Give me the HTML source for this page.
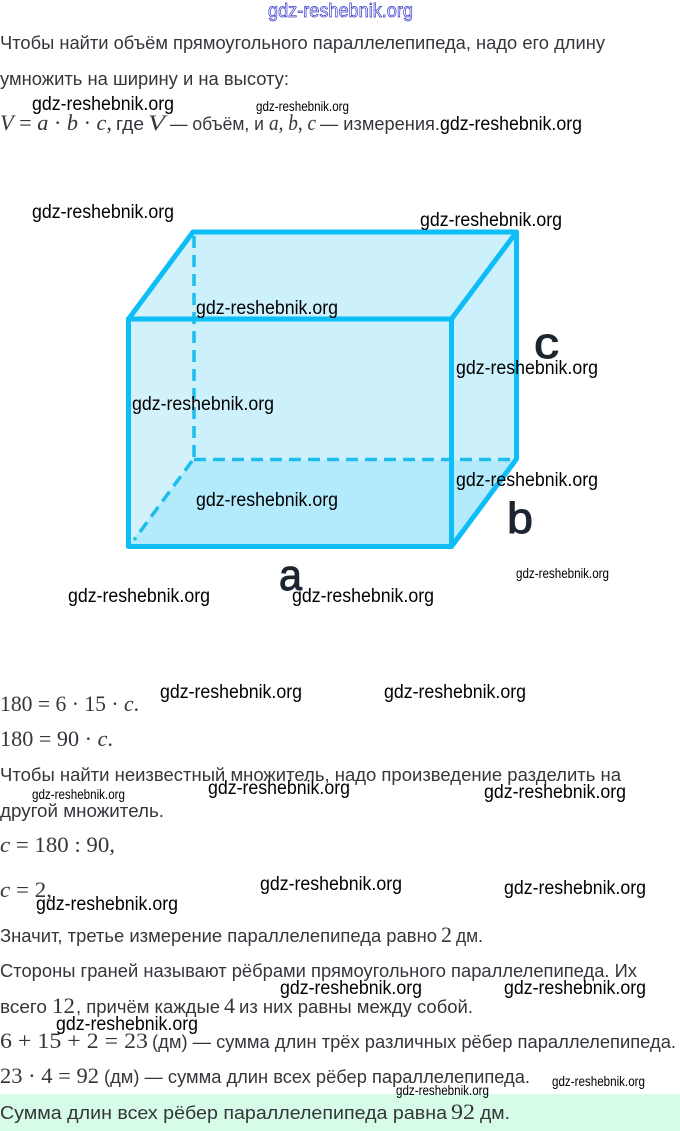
<!DOCTYPE html>
<html lang="ru"><head><meta charset="utf-8"><title>Параллелепипед</title>
<style>
html,body{margin:0;padding:0;background:#fff;width:680px;height:1131px;overflow:hidden}
svg{display:block}
.t{font-family:"Liberation Sans",sans-serif;font-size:18.5px;fill:#33363b}
.m{font-family:"Liberation Serif",serif;font-size:22px;fill:#33363b}
.i{font-style:italic}
.w{font-family:"Liberation Sans",sans-serif;font-size:19px;fill:#000}
.s{font-family:"Liberation Sans",sans-serif;font-size:13.5px;fill:#000}
.l{font-family:"Liberation Sans",sans-serif;font-size:44px;fill:#1c2530;stroke:#1c2530;stroke-width:1}
</style></head><body>
<svg xmlns="http://www.w3.org/2000/svg" width="680" height="1131" viewBox="0 0 680 1131">
<rect width="680" height="1131" fill="#fff"/>
<rect x="0" y="1094" width="680" height="37" fill="#d6fbe6"/>

<text x="268" y="17" font-family="Liberation Sans, sans-serif" font-size="19" fill="#fff" stroke="#3333cc" stroke-width=".7" textLength="145" lengthAdjust="spacingAndGlyphs">gdz-reshebnik.org</text>

<text class="t" x="0" y="49" textLength="605" lengthAdjust="spacingAndGlyphs">Чтобы найти объём прямоугольного параллелепипеда, надо его длину</text>
<text class="t" x="0" y="85" textLength="289" lengthAdjust="spacingAndGlyphs">умножить на ширину и на высоту:</text>
<text class="m" x="0" y="130" textLength="112" lengthAdjust="spacingAndGlyphs"><tspan class="i">V</tspan> = <tspan class="i">a</tspan> · <tspan class="i">b</tspan> · <tspan class="i">c</tspan>,</text>
<text class="t" x="116" y="130" textLength="28" lengthAdjust="spacingAndGlyphs">где</text>
<text class="m i" x="148" y="130" textLength="17" lengthAdjust="spacingAndGlyphs">V</text>
<text class="t" x="170" y="130" textLength="94" lengthAdjust="spacingAndGlyphs">— объём, и</text>
<text class="m i" x="269" y="130" textLength="47" lengthAdjust="spacingAndGlyphs">a, b, c</text>
<text class="t" x="320" y="130" textLength="120" lengthAdjust="spacingAndGlyphs">— измерения.</text>

<!-- box -->
<polygon points="128,319 193,232 517,232 452,319" fill="#cdf1fc"/>
<polygon points="128,319 452,319 452,546 128,546" fill="#cdf1fc"/>
<polygon points="452,319 517,232 517,460 452,546" fill="#cdf1fc"/>
<polygon points="128,546 193,460 517,460 452,546" fill="#b3eafc"/>
<polygon points="128,319 193,232 193,460 128,546" fill="#d2f1fb"/>
<g fill="none" stroke="#1ebdec" stroke-width="3.500" stroke-dasharray="12 7">
<line x1="194" y1="236" x2="194" y2="460"/>
<line x1="194" y1="459.500" x2="517" y2="459.500"/>
<line x1="192" y1="461" x2="134" y2="540"/>
</g>
<g fill="none" stroke="#0dbdf5" stroke-width="5" stroke-linejoin="round" stroke-linecap="round">
<polygon points="128.500,319 451.500,319 451.500,546.500 128.500,546.500"/>
<polyline points="128.500,319 193,232 516.500,232 516.500,459 451.500,546.500"/>
<line x1="451.500" y1="319" x2="516.500" y2="232"/>
</g>
<text class="l" x="279" y="590" textLength="23" lengthAdjust="spacingAndGlyphs">a</text>
<text class="l" x="507" y="533" textLength="26" lengthAdjust="spacingAndGlyphs">b</text>
<text class="l" x="534" y="358" textLength="25" lengthAdjust="spacingAndGlyphs">c</text>

<text class="m" x="0" y="711" textLength="139" lengthAdjust="spacingAndGlyphs">180 = 6 · 15 · <tspan class="i">c</tspan>.</text>
<text class="m" x="0" y="746" textLength="113" lengthAdjust="spacingAndGlyphs">180 = 90 · <tspan class="i">c</tspan>.</text>
<text class="t" x="0" y="781" textLength="621" lengthAdjust="spacingAndGlyphs">Чтобы найти неизвестный множитель, надо произведение разделить на</text>
<text class="t" x="0" y="817" textLength="164" lengthAdjust="spacingAndGlyphs">другой множитель.</text>
<text class="m" x="0" y="852" textLength="115" lengthAdjust="spacingAndGlyphs"><tspan class="i">c</tspan> = 180 : 90,</text>
<text class="m" x="0" y="897" textLength="52" lengthAdjust="spacingAndGlyphs"><tspan class="i">c</tspan> = 2,</text>
<text class="t" x="0" y="942" textLength="437" lengthAdjust="spacingAndGlyphs">Значит, третье измерение параллелепипеда равно</text>
<text class="m" x="441" y="942" textLength="11" lengthAdjust="spacingAndGlyphs">2</text>
<text class="t" x="456" y="942" textLength="27" lengthAdjust="spacingAndGlyphs">дм.</text>
<text class="t" x="0" y="977" textLength="637" lengthAdjust="spacingAndGlyphs">Стороны граней называют рёбрами прямоугольного параллелепипеда. Их</text>
<text class="t" x="0" y="1013" textLength="47" lengthAdjust="spacingAndGlyphs">всего</text>
<text class="m" x="52" y="1013" textLength="23" lengthAdjust="spacingAndGlyphs">12</text>
<text class="t" x="76" y="1013" textLength="144" lengthAdjust="spacingAndGlyphs">, причём каждые</text>
<text class="m" x="224" y="1013" textLength="11" lengthAdjust="spacingAndGlyphs">4</text>
<text class="t" x="239" y="1013" textLength="234" lengthAdjust="spacingAndGlyphs">из них равны между собой.</text>
<text class="m" x="0" y="1048" textLength="148" lengthAdjust="spacingAndGlyphs">6 + 15 + 2 = 23</text>
<text class="t" x="152" y="1048" textLength="524" lengthAdjust="spacingAndGlyphs">(дм) — сумма длин трёх различных рёбер параллелепипеда.</text>
<text class="m" x="0" y="1083" textLength="99" lengthAdjust="spacingAndGlyphs">23 · 4 = 92</text>
<text class="t" x="104" y="1083" textLength="426" lengthAdjust="spacingAndGlyphs">(дм) — сумма длин всех рёбер параллелепипеда.</text>
<text class="t" x="0" y="1119" textLength="447" lengthAdjust="spacingAndGlyphs">Сумма длин всех рёбер параллелепипеда равна</text>
<text class="m" x="451" y="1119" textLength="24" lengthAdjust="spacingAndGlyphs">92</text>
<text class="t" x="480" y="1119" textLength="30" lengthAdjust="spacingAndGlyphs">дм.</text>

<!-- watermarks -->
<g>
<text class="w" x="32" y="110" textLength="142" lengthAdjust="spacingAndGlyphs">gdz-reshebnik.org</text>
<text class="w" x="440" y="130" textLength="142" lengthAdjust="spacingAndGlyphs">gdz-reshebnik.org</text>
<text class="w" x="32" y="218" textLength="142" lengthAdjust="spacingAndGlyphs">gdz-reshebnik.org</text>
<text class="w" x="420" y="226" textLength="142" lengthAdjust="spacingAndGlyphs">gdz-reshebnik.org</text>
<text class="w" x="196" y="314" textLength="142" lengthAdjust="spacingAndGlyphs">gdz-reshebnik.org</text>
<text class="w" x="456" y="374" textLength="142" lengthAdjust="spacingAndGlyphs">gdz-reshebnik.org</text>
<text class="w" x="132" y="410" textLength="142" lengthAdjust="spacingAndGlyphs">gdz-reshebnik.org</text>
<text class="w" x="456" y="486" textLength="142" lengthAdjust="spacingAndGlyphs">gdz-reshebnik.org</text>
<text class="w" x="196" y="506" textLength="142" lengthAdjust="spacingAndGlyphs">gdz-reshebnik.org</text>
<text class="w" x="68" y="602" textLength="142" lengthAdjust="spacingAndGlyphs">gdz-reshebnik.org</text>
<text class="w" x="292" y="602" textLength="142" lengthAdjust="spacingAndGlyphs">gdz-reshebnik.org</text>
<text class="w" x="160" y="698" textLength="142" lengthAdjust="spacingAndGlyphs">gdz-reshebnik.org</text>
<text class="w" x="384" y="698" textLength="142" lengthAdjust="spacingAndGlyphs">gdz-reshebnik.org</text>
<text class="w" x="208" y="794" textLength="142" lengthAdjust="spacingAndGlyphs">gdz-reshebnik.org</text>
<text class="w" x="484" y="798" textLength="142" lengthAdjust="spacingAndGlyphs">gdz-reshebnik.org</text>
<text class="w" x="260" y="890" textLength="142" lengthAdjust="spacingAndGlyphs">gdz-reshebnik.org</text>
<text class="w" x="504" y="894" textLength="142" lengthAdjust="spacingAndGlyphs">gdz-reshebnik.org</text>
<text class="w" x="36" y="910" textLength="142" lengthAdjust="spacingAndGlyphs">gdz-reshebnik.org</text>
<text class="w" x="280" y="994" textLength="142" lengthAdjust="spacingAndGlyphs">gdz-reshebnik.org</text>
<text class="w" x="504" y="994" textLength="142" lengthAdjust="spacingAndGlyphs">gdz-reshebnik.org</text>
<text class="w" x="56" y="1030" textLength="142" lengthAdjust="spacingAndGlyphs">gdz-reshebnik.org</text>
<text class="s" x="256" y="111" textLength="93" lengthAdjust="spacingAndGlyphs">gdz-reshebnik.org</text>
<text class="s" x="516" y="578" textLength="93" lengthAdjust="spacingAndGlyphs">gdz-reshebnik.org</text>
<text class="s" x="32" y="799" textLength="93" lengthAdjust="spacingAndGlyphs">gdz-reshebnik.org</text>
<text class="s" x="552" y="1086" textLength="93" lengthAdjust="spacingAndGlyphs">gdz-reshebnik.org</text>
<text class="s" x="396" y="1095" textLength="93" lengthAdjust="spacingAndGlyphs">gdz-reshebnik.org</text>
</g>
</svg>
</body></html>
